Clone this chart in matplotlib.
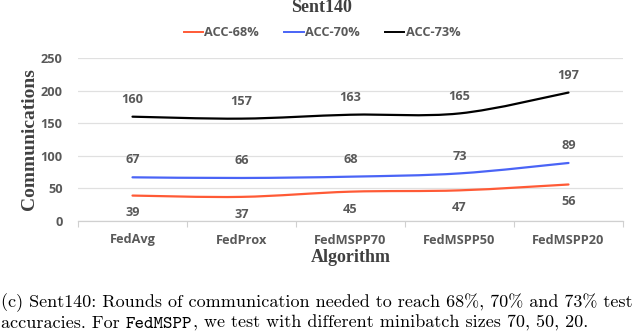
import matplotlib
matplotlib.use("Agg")
import matplotlib.pyplot as plt
from matplotlib.path import Path
from matplotlib.patches import PathPatch
from matplotlib.lines import Line2D
import numpy as np

algorithms = ["FedAvg", "FedProx", "FedMSPP70", "FedMSPP50", "FedMSPP20"]
acc68 = [39, 37, 45, 47, 56]
acc70 = [67, 66, 68, 73, 89]
acc73 = [160, 157, 163, 165, 197]
series_names = ["ACC-68%", "ACC-70%", "ACC-73%"]
colors = ["#FF5a36", "#4a64f6", "#000000"]

tick_font = dict(family="Open Sans", weight="bold", color="#595959", size=9.2)


def smooth_path(xs, ys, t=1 / 6.0):
    # Excel-like smoothed line: catmull-rom to bezier
    pts = list(zip(xs, ys))
    verts = [pts[0]]
    codes = [Path.MOVETO]
    n = len(pts)
    for i in range(n - 1):
        p0 = pts[i - 1] if i > 0 else pts[i]
        p1 = pts[i]
        p2 = pts[i + 1]
        p3 = pts[i + 2] if i + 2 < n else pts[i + 1]
        c1 = (p1[0] + (p2[0] - p0[0]) * t, p1[1] + (p2[1] - p0[1]) * t)
        c2 = (p2[0] - (p3[0] - p1[0]) * t, p2[1] - (p3[1] - p1[1]) * t)
        verts += [c1, c2, p2]
        codes += [Path.CURVE4] * 3
    return Path(verts, codes)


fig = plt.figure(figsize=(6.4, 3.33), dpi=100)
ax = fig.add_axes([78 / 640, 1 - 221 / 333, 545 / 640, 163 / 333])

x = np.arange(len(algorithms))
all_series = [acc68, acc70, acc73]
for vals, c in zip(all_series, colors):
    ax.add_patch(PathPatch(smooth_path(x, vals), facecolor="none",
                           edgecolor=c, lw=1.6, capstyle="round"))

for i in range(len(algorithms)):
    ax.annotate(str(acc68[i]), (x[i], acc68[i]), xytext=(0, -12.5),
                textcoords="offset points", ha="center", va="center", **tick_font)
    ax.annotate(str(acc70[i]), (x[i], acc70[i]), xytext=(0, 12.5),
                textcoords="offset points", ha="center", va="center", **tick_font)
    ax.annotate(str(acc73[i]), (x[i], acc73[i]), xytext=(0, 12.5),
                textcoords="offset points", ha="center", va="center", **tick_font)

ax.set_xlim(-0.5, len(algorithms) - 0.5)
ax.set_ylim(0, 250)
ax.set_yticks([0, 50, 100, 150, 200, 250])
ax.set_yticklabels(["0", "50", "100", "150", "200", "250"], **tick_font)
ax.set_xticks(x)
ax.set_xticklabels(algorithms, **tick_font)
ax.set_xticks(np.arange(-0.5, len(algorithms)), minor=True)
ax.tick_params(axis="x", which="major", length=0, pad=9)
ax.tick_params(axis="x", which="minor", length=4, color="#d0d0d0", width=0.8)
ax.tick_params(axis="y", length=0, pad=11)
ax.grid(axis="y", color="#e0e0e0", lw=0.9)
ax.set_axisbelow(True)
for s in ["top", "right", "left"]:
    ax.spines[s].set_visible(False)
ax.spines["bottom"].set_color("#d0d0d0")
ax.spines["bottom"].set_linewidth(0.9)

ax.set_ylabel("Communications", family="Liberation Serif", weight="bold",
              size=14, color="#404040", labelpad=2)
ax.set_xlabel("Algorithm", family="Liberation Serif", weight="bold",
              size=13, color="#404040", labelpad=2)

fig.text(322 / 640, 1 - 8 / 333, "Sent140", ha="center", va="center",
         family="Liberation Serif", weight="bold", size=13, color="#404040")

handles = [Line2D([], [], color=c, lw=1.4) for c in colors]
fig.legend(handles, series_names, loc="center", bbox_to_anchor=(322 / 640, 1 - 33 / 333),
           ncol=3, frameon=False, handlelength=1.5, handletextpad=0.1, columnspacing=2.0,
           prop=dict(family="Open Sans", weight="bold", size=9.2))
for t in fig.legends[0].get_texts():
    t.set_color("#595959")

cap_size = 13
fig.text(0.002, 1 - 307 / 333,
         "(c) Sent140: Rounds of communication needed to reach 68%, 70% and 73% test",
         family="cmr10", size=cap_size, va="baseline", ha="left")
t1 = fig.text(0.002, 1 - 328 / 333, "accuracies. For ", family="cmr10", size=cap_size,
              va="baseline", ha="left")
fig.canvas.draw()
r = fig.canvas.get_renderer()
bb = t1.get_window_extent(r)
t2 = fig.text(bb.x1 / 640, 1 - 328 / 333, "FedMSPP", family="cmtt10", size=cap_size,
              va="baseline", ha="left")
bb2 = t2.get_window_extent(r)
fig.text(bb2.x1 / 640, 1 - 328 / 333,
         ", we test with different minibatch sizes 70, 50, 20.",
         family="cmr10", size=cap_size, va="baseline", ha="left")

fig.savefig("out.png", dpi=100)
